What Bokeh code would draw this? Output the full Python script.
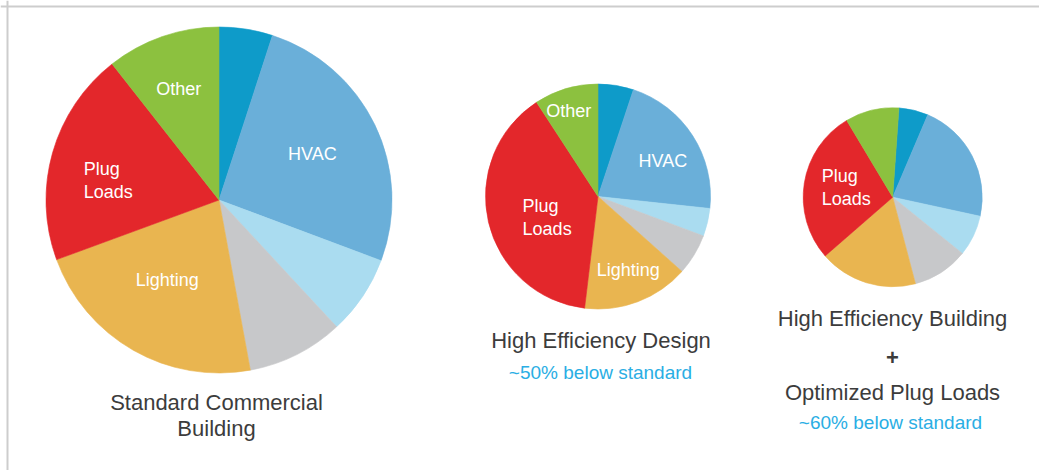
import math
from bokeh.plotting import figure
from bokeh.models import Range1d, ColumnDataSource, Span
from bokeh.core.properties import value
from bokeh.embed import file_html
from bokeh.resources import INLINE

# ---- data (share of each building's energy use, %) ----
segments = ["Water Heating", "HVAC", "Ventilation", "Refrigeration", "Lighting", "Plug Loads", "Other"]
standard_building = [5.0, 25.7, 7.4, 9.0, 22.3, 20.0, 10.6]
high_efficiency_design = [5.1, 21.6, 4.0, 5.9, 15.3, 38.9, 9.2]
optimized_plug_loads = [5.3, 22.0, 7.4, 10.1, 17.7, 27.8, 9.7]
colors = ["#0e9bc9", "#6aafd9", "#aadcf0", "#c7c8ca", "#e9b550", "#e3272b", "#8cc13f"]

labels_standard = {"HVAC": "HVAC", "Lighting": "Lighting", "Plug Loads": "Plug\nLoads", "Other": "Other"}
labels_design = {"HVAC": "HVAC", "Lighting": "Lighting", "Plug Loads": "Plug\nLoads", "Other": "Other"}
labels_optimized = {"Plug Loads": "Plug\nLoads"}

caption_standard = ["Standard Commercial", "Building"]
caption_design = ["High Efficiency Design"]
sub_design = "~50% below standard"
caption_optimized = ["High Efficiency Building", "+", "Optimized Plug Loads"]
sub_optimized = "~60% below standard"

# ---- layout (screen pixels; data y = 475 - screen y) ----
H = 475
W = 1039
PH = 470
FONT = "Liberation Sans"

p = figure(width=W, height=PH, x_range=Range1d(0, W), y_range=Range1d(H - PH, H),
           output_backend="svg", toolbar_location=None, min_border=0)
p.axis.visible = False
p.grid.visible = False
p.outline_line_color = None
p.background_fill_color = "white"
p.border_fill_color = "white"

p.add_layout(Span(location=H - 6, dimension="width", line_color="#cdcdcd", line_width=2))
p.add_layout(Span(location=7, dimension="height", line_color="#cdcdcd", line_width=2))


def draw_pie(vals, cx, cy, r, start_deg, label_map, label_pos):
    total = sum(vals)
    cum = start_deg
    xs, ys, rs, sa, ea = [], [], [], [], []
    for v in vals:
        a0 = cum
        a1 = cum + v / total * 360.0
        cum = a1
        xs.append(cx); ys.append(H - cy); rs.append(r)
        sa.append(math.radians(90 - a0)); ea.append(math.radians(90 - a1))
    src = ColumnDataSource(dict(x=xs, y=ys, r=rs, s=sa, e=ea, c=colors, name=segments))
    p.wedge(x="x", y="y", radius="r", start_angle="s", end_angle="e", direction="clock",
            fill_color="c", line_color="c", line_width=0.6, source=src)
    tx, ty, tt = [], [], []
    for seg, txt in label_map.items():
        ang, frac = label_pos[seg]
        tx.append(cx + frac * r * math.sin(math.radians(ang)))
        ty.append(H - cy + frac * r * math.cos(math.radians(ang)))
        tt.append(txt)
    lsrc = ColumnDataSource(dict(x=tx, y=ty, t=tt))
    p.text(x="x", y="y", text="t", source=lsrc, text_color="white", text_font=value(FONT),
           text_font_size="18px", text_align="left", anchor="center", text_line_height=1.15)


draw_pie(standard_building, 218.5, 199.5, 173, 0.0, labels_standard,
         {"HVAC": (64, 0.60), "Other": (340, 0.68), "Lighting": (213, 0.55), "Plug Loads": (280, 0.65)})
draw_pie(high_efficiency_design, 597.5, 196, 112.5, 0.0, labels_design,
         {"HVAC": (61, 0.66), "Other": (341, 0.80), "Lighting": (157.7, 0.71), "Plug Loads": (247.4, 0.49)})
draw_pie(optimized_plug_loads, 892.2, 196.7, 89.5, 4.0, labels_optimized,
         {"Plug Loads": (281.3, 0.53)})


def caption(lines, cx, ys, size, color, bold=None):
    bold = bold or [False] * len(lines)
    for t, yy, b in zip(lines, ys, bold):
        p.text(x=[cx], y=[H - yy], text=[t], text_color=color, text_font=value(FONT),
               text_font_size=size, text_align="center", text_baseline="middle",
               text_font_style="bold" if b else "normal")


caption(caption_standard, 216, [401.7, 427.7], "22px", "#3c3c3c")
caption(caption_design, 600.5, [340], "22px", "#3c3c3c")
caption([sub_design], 600, [371.7], "19px", "#2aaee4")
caption(caption_optimized, 892, [317.7, 356.7, 391.7], "22px", "#3c3c3c", [False, True, False])
caption([sub_optimized], 890, [421.7], "19px", "#2aaee4")

open("out.html", "w").write(file_html(p, INLINE))
